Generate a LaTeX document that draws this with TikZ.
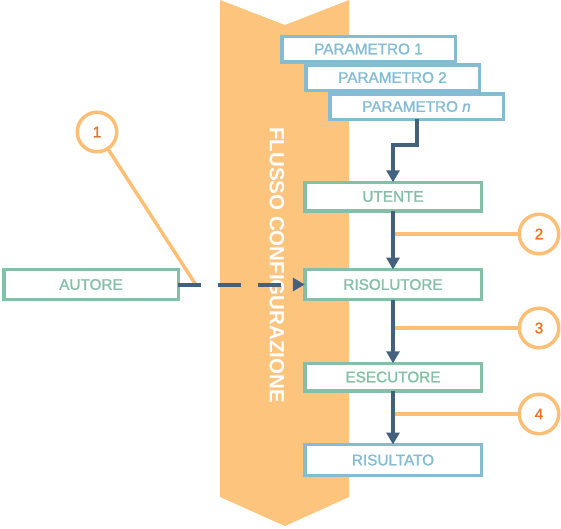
\documentclass[tikz,border=0pt]{standalone}
\usepackage{fontspec}
\setmainfont{Liberation Sans}
\newfontfamily\boxfont[FakeBold=1.4]{Liberation Sans}
\usetikzlibrary{arrows.meta}

\definecolor{bandorange}{HTML}{FDC47E}
\definecolor{calloutorange}{HTML}{FDBF76}
\definecolor{numorange}{HTML}{E8742C}
\definecolor{boxgreen}{HTML}{84BFA7}
\definecolor{boxblue}{HTML}{84BDD3}
\definecolor{flowblue}{HTML}{44607F}

\begin{document}
\begin{tikzpicture}[
    x=1pt, y=-1pt, % pixel-like coordinates, y grows downwards
    every node/.style={
        font=\boxfont\fontsize{15.3}{18}\selectfont, % box labels
        inner sep=0pt,
        outer sep=0pt
    },
    parbox/.style={
        draw=boxblue, fill=white, text=boxblue,
        line width=3.5pt,
        minimum width=173.5, minimum height=25.5
    },
    stagebox/.style={
        draw=boxgreen, fill=white, text=boxgreen,
        line width=3.5pt,
        minimum width=176.5, minimum height=28.5
    },
    resbox/.style={stagebox, draw=boxblue, text=boxblue},
    callout/.style={
        circle, draw=calloutorange, fill=white, text=numorange,
        line width=3.5pt, minimum size=39.5
    },
    calloutline/.style={draw=calloutorange, line width=3.5pt, line cap=round},
    flow/.style={
        draw=flowblue, line width=4pt,
        -{Triangle[length=12pt,width=13pt]}
    },
]
\useasboundingbox (0,0) rectangle (561,528);

% configuration band
\fill[bandorange] (220,0) -- (285,25) -- (349,0) -- (349,497)
    -- (285,526) -- (220,497) -- cycle;
\node[rotate=-90, text=white, font=\bfseries\fontsize{20.5}{24}\selectfont]
    (band) at (277,265) {FLUSSO CONFIGURAZIONE};

% parameters
\node[parbox] (p1) at (368.5,49) {PARAMETRO 1};
\node[parbox] (p2) at (392.5,77.5) {PARAMETRO 2};
\node[parbox] (pn) at (416.5,106.5) {PARAMETRO \textit{n}};

% stages
\node[stagebox] (ut) at (393,196.5) {UTENTE};
\node[stagebox, minimum height=30] (ris) at (393,284.5) {RISOLUTORE};
\node[stagebox, minimum height=27.5] (ese) at (393,377) {ESECUTORE};
\node[resbox, minimum height=31] (res) at (393,460) {RISULTATO};
\node[stagebox, minimum height=30, minimum width=174.5] (aut) at (91,284.5) {AUTORE};

% callouts
\node[callout] (c1) at (97,132) {1};
\node[callout] (c2) at (539,234) {2};
\node[callout] (c3) at (539,328) {3};
\node[callout] (c4) at (539,414) {4};
\coordinate (k1) at (196,285);

\draw[calloutline] (c1) -- (k1);
\draw[calloutline] (c2.west) -- (c2.west -| ut.south);
\draw[calloutline] (c3.west) -- (c3.west -| ris.south);
\draw[calloutline] (c4.west) -- (c4.west -| ese.south);

% flow
\draw[flow] (pn.south) -- ++(0,26) -| (ut.north);
\draw[flow] (ut) -- (ris);
\draw[flow] (ris) -- (ese);
\draw[flow] (ese) -- (res);
\draw[flow, dash pattern=on 23pt off 17pt] (aut.east) -- (ris.west);
\end{tikzpicture}
\end{document}
